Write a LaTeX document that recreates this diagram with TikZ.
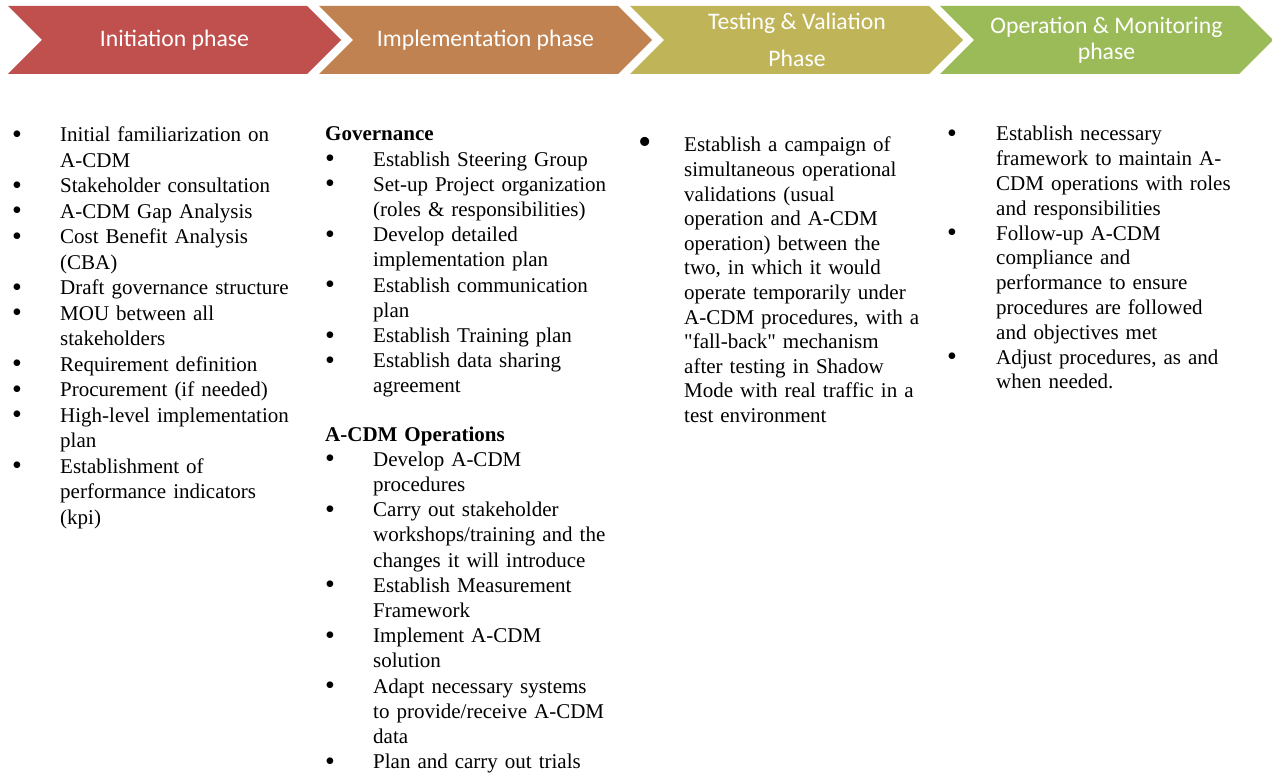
\documentclass[tikz,border=0pt]{standalone}
\usepackage{fontspec}
\setmainfont{Liberation Serif}[Ligatures=TeXOff]
\newfontfamily\chevfont{Carlito}
\definecolor{initred}{HTML}{C0504D}
\definecolor{implorange}{HTML}{BF8250}
\definecolor{testolive}{HTML}{C0B458}
\definecolor{opgreen}{HTML}{9BBB59}
\tikzstyle{every node}=[inner sep=0pt]
\tikzstyle{phase} = [text=white, font=\chevfont\fontsize{23.7}{26}\selectfont, align=center]
\tikzset{steps/.style={anchor=base west, text width=300pt, align=left,
    execute at begin node={\setlength\bulind{#1}\parskip=0pt}}}
\newlength\bulind
\newcommand{\bul}{\smash{\raisebox{-1.5pt}{\fontsize{28}{0}\selectfont\textbullet}}}
\newcommand{\bigbul}{\smash{\raisebox{-3pt}{\fontsize{38}{0}\selectfont\textbullet}}}
\newcommand{\bitem}[2][\bul]{\hangindent=\bulind\hangafter=1\noindent\hbox to\bulind{#1\hss}#2\par}
\newcommand{\chev}[2]{\fill[#2] (#1,6) -- ++(299,0) -- ++(34,34) -- ++(-34,34) -- ++(-299,0) -- ++(34,-34) -- cycle;}

\begin{document}
\begin{tikzpicture}[x=1pt, y=-1pt]
    \useasboundingbox[fill=white] (0,0) rectangle (1272,778);
    % Phase arrows
    \chev{8}{initred}
    \chev{319}{implorange}
    \chev{630}{testolive}
    \chev{940}{opgreen}
    \node [phase] (init) at (174.5,40) {Initiation phase};
    \node [phase] (impl) at (485.5,40) {Implementation phase};
    \node [phase] (test) at (797,39.5) {Testing \& Valiation\\[11pt]Phase};
    \node [phase] (oper) at (1106.5,40) {Operation \& Monitoring\\phase};
    % Activities per phase
    \node [steps=48pt, font=\fontsize{21}{25.5}\selectfont] (initlist) at (12,142) {%
        \bitem{Initial familiarization on\newline A-CDM}
        \bitem{Stakeholder consultation}
        \bitem{A-CDM Gap Analysis}
        \bitem{Cost Benefit Analysis\newline (CBA)}
        \bitem{Draft governance structure}
        \bitem{MOU between all\newline stakeholders}
        \bitem{Requirement definition}
        \bitem{Procurement (if needed)}
        \bitem{High-level implementation\newline plan}
        \bitem{Establishment of\newline performance indicators\newline (kpi)}};
    \node [steps=48pt, font=\fontsize{21}{25.2}\selectfont] (impllist) at (325,141) {%
        \noindent\textbf{Governance}\par
        \bitem{Establish Steering Group}
        \bitem{Set-up Project organization\newline (roles \& responsibilities)}
        \bitem{Develop detailed\newline implementation plan}
        \bitem{Establish communication\newline plan}
        \bitem{Establish Training plan}
        \bitem{Establish data sharing\newline agreement}
        \vspace{23pt}
        \noindent\textbf{A-CDM Operations}\par
        \bitem{Develop A-CDM\newline procedures}
        \bitem{Carry out stakeholder\newline workshops/training and the\newline changes it will introduce}
        \bitem{Establish Measurement\newline Framework}
        \bitem{Implement A-CDM\newline solution}
        \bitem{Adapt necessary systems\newline to provide/receive A-CDM\newline data}
        \bitem{Plan and carry out trials}};
    \node [steps=46pt, font=\fontsize{21}{24.6}\selectfont] (testlist) at (638,152) {%
        \bitem[\bigbul]{Establish a campaign of\newline simultaneous operational\newline validations (usual\newline operation and A-CDM\newline operation) between the\newline two, in which it would\newline operate temporarily under\newline A-CDM procedures, with a\newline "fall-back" mechanism\newline after testing in Shadow\newline Mode with real traffic in a\newline test environment}};
    \node [steps=49pt, font=\fontsize{21}{24.8}\selectfont] (operlist) at (947,141) {%
        \bitem{Establish necessary\newline framework to maintain A-\newline CDM operations with roles\newline and responsibilities}
        \bitem{Follow-up A-CDM\newline compliance and\newline performance to ensure\newline procedures are followed\newline and objectives met}
        \bitem{Adjust procedures, as and\newline when needed.}};
\end{tikzpicture}
\end{document}
